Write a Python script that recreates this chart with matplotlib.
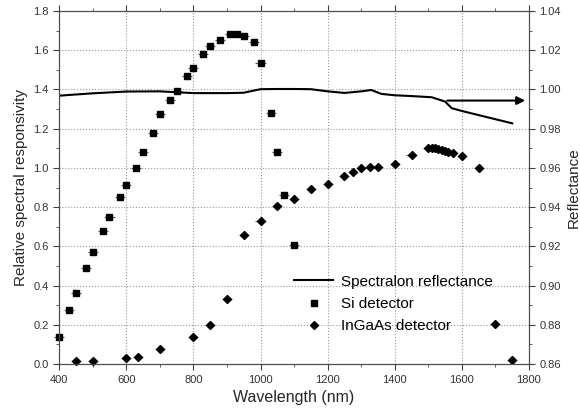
import matplotlib
matplotlib.use('Agg')
import matplotlib.pyplot as plt
from matplotlib.ticker import MultipleLocator, FormatStrFormatter

plt.rcParams.update({'font.family': ['Liberation Sans', 'DejaVu Sans'], 'font.size': 8})

# Si detector relative responsivity
si_wl = [400, 430, 450, 480, 500, 530, 550, 580, 600, 630, 650, 680, 700, 730, 750,
         780, 800, 830, 850, 880, 910, 930, 950, 980, 1000, 1030, 1050, 1070, 1100]
si_resp = [0.14, 0.275, 0.36, 0.49, 0.57, 0.68, 0.75, 0.853, 0.913, 1.0, 1.08, 1.18, 1.275,
           1.347, 1.393, 1.47, 1.51, 1.58, 1.62, 1.65, 1.68, 1.68, 1.67, 1.64, 1.534, 1.28,
           1.08, 0.86, 0.607]

# InGaAs detector relative responsivity
ingaas_wl = [450, 500, 600, 635, 700, 800, 850, 900, 950, 1000, 1050, 1100, 1150, 1200,
             1250, 1275, 1300, 1325, 1350, 1400, 1450, 1500, 1510, 1520, 1530, 1540, 1550,
             1560, 1575, 1600, 1650, 1700, 1750]
ingaas_resp = [0.015, 0.017, 0.03, 0.035, 0.077, 0.138, 0.2, 0.33, 0.66, 0.73, 0.806, 0.84,
               0.89, 0.92, 0.96, 0.98, 0.998, 1.007, 1.007, 1.02, 1.065, 1.10, 1.10, 1.10,
               1.095, 1.09, 1.085, 1.08, 1.075, 1.06, 1.0, 0.205, 0.02]

# Spectralon reflectance (right axis)
ref_wl = [400, 500, 600, 700, 800, 900, 950, 1000, 1050, 1100, 1150, 1200, 1250, 1300,
          1330, 1360, 1400, 1450, 1510, 1550, 1570, 1600, 1650, 1700, 1750]
ref_val = [0.9968, 0.9980, 0.9989, 0.9990, 0.9981, 0.9981, 0.9983, 1.0001, 1.0002, 1.0002,
           1.0001, 0.9990, 0.9982, 0.9990, 0.9997, 0.9977, 0.9970, 0.9966, 0.9960, 0.9938,
           0.9904, 0.9890, 0.9869, 0.9848, 0.9827]

fig = plt.figure(figsize=(5.8, 4.19), dpi=100)
ax = fig.add_axes([0.102, 0.131, 0.810, 0.843])
ax2 = ax.twinx()

for wl, resp, mk, ms in [(si_wl, si_resp, 's', 4.5), (ingaas_wl, ingaas_resp, 'D', 4.2)]:
    cont = ax.errorbar(wl, resp, xerr=15, fmt=mk, color='black', ms=ms,
                       ecolor='0.35', elinewidth=0.8, capsize=0, zorder=3)
    cont[0].set_clip_on(False)
    for c in cont[2]:
        c.set_clip_on(False)
ax2.plot(ref_wl, ref_val, 'k-', lw=1.5)
ax2.annotate('', xy=(1797, 0.9943), xytext=(1548, 0.9943),
             arrowprops=dict(arrowstyle='-|>', color='black', lw=1.5, mutation_scale=12))

ax.set_xlim(400, 1800)
ax.set_ylim(0, 1.8)
ax2.set_ylim(0.86, 1.04)
ax.xaxis.set_major_locator(MultipleLocator(200))
ax.xaxis.set_minor_locator(MultipleLocator(100))
ax.yaxis.set_major_locator(MultipleLocator(0.2))
ax.yaxis.set_minor_locator(MultipleLocator(0.1))
ax2.yaxis.set_major_locator(MultipleLocator(0.02))
ax2.yaxis.set_minor_locator(MultipleLocator(0.01))
ax.yaxis.set_major_formatter(FormatStrFormatter('%.1f'))
ax2.yaxis.set_major_formatter(FormatStrFormatter('%.2f'))

ax.grid(True, which='major', ls=':', color='0.6', lw=0.8)
ax.tick_params(which='both', direction='out', top=True, colors='0.25', labelcolor='0.2')
ax.tick_params(which='major', length=4)
ax.tick_params(which='minor', length=2)
ax2.tick_params(which='major', direction='out', length=4, colors='0.25', labelcolor='0.2')
ax2.tick_params(which='minor', direction='out', length=2, colors='0.25')
for a in (ax, ax2):
    for s in a.spines.values():
        s.set_color('0.3')

ax.set_xlabel('Wavelength (nm)', fontsize=11.5, color='0.15')
ax.set_ylabel('Relative spectral responsivity', fontsize=11, color='0.15')
ax2.set_ylabel('Reflectance', fontsize=11, color='0.15')

h_ref, = ax.plot([], [], 'k-', lw=1.5)
h_si, = ax.plot([], [], 'ks', ms=4.5)
h_in, = ax.plot([], [], 'kD', ms=4.2)
ax.legend([h_ref, h_si, h_in], ['Spectralon reflectance', 'Si detector', 'InGaAs detector'],
          loc='lower left', bbox_to_anchor=(0.47, 0.048), frameon=False, fontsize=11,
          handlelength=2.6, labelspacing=0.55, handletextpad=0.5)

fig.savefig('out.png', dpi=100)
